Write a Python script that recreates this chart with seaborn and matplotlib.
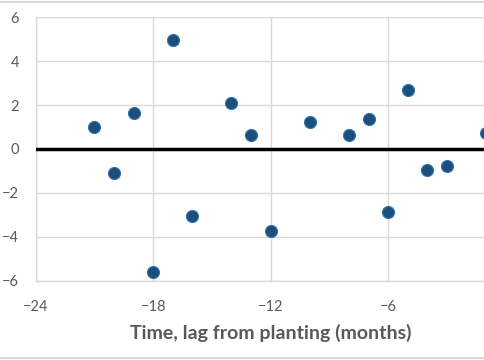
import matplotlib
matplotlib.use("Agg")
import matplotlib.pyplot as plt
import seaborn as sns
import pandas as pd
from matplotlib.lines import Line2D

lag_months = [-21, -20, -19, -18, -17, -16, -14, -13, -12, -10, -8, -7, -6, -5, -4, -3, -1]
values = [1.01, -1.09, 1.66, -5.61, 4.97, -3.03, 2.08, 0.65, -3.75, 1.25, 0.65, 1.36, -2.88, 2.70, -0.94, -0.79, 0.75]
x_ticks = [-24, -18, -12, -6]
y_ticks = [-6, -4, -2, 0, 2, 4, 6]
x_title = "Time, lag from planting (months)"

df = pd.DataFrame({"lag": lag_months, "value": values})

sns.set_theme(style="white")
plt.rcParams['font.family'] = ['Lato', 'DejaVu Sans']

fig = plt.figure(figsize=(4.85, 3.6), dpi=100)
ax = fig.add_axes([35.7 / 485, 79.3 / 360, (505.6 - 35.7) / 485, (280.7 - 17.3) / 360])

sns.scatterplot(data=df, x="lag", y="value", ax=ax, s=75, color="#1f4e79",
                edgecolor="#2e75b6", linewidth=0.8, zorder=5, clip_on=False)

ax.set_xlim(-24, 0)
ax.set_ylim(-6, 6)
ax.set_xticks(x_ticks)
ax.set_yticks(y_ticks)
ax.grid(True, color="#d9d9d9", linewidth=1.0)
ax.axhline(0, color="black", linewidth=2.5, zorder=3)
for side in ["top", "right"]:
    ax.spines[side].set_visible(False)
for side in ["left", "bottom"]:
    ax.spines[side].set_color("#d9d9d9")
    ax.spines[side].set_linewidth(1.0)
ax.tick_params(axis="both", length=0, labelsize=10.5, labelcolor="#595959")
ax.tick_params(axis="x", pad=14)
ax.tick_params(axis="y", pad=12)
ax.set_xlabel(x_title, fontsize=14, fontweight="bold", color="#595959", labelpad=7)
ax.set_ylabel("")

fig.add_artist(Line2D([0, 1], [1 - 1.5 / 360, 1 - 1.5 / 360], transform=fig.transFigure,
                      color="#d9d9d9", linewidth=1.5))
fig.add_artist(Line2D([0, 1], [2 / 360, 2 / 360], transform=fig.transFigure,
                      color="#d9d9d9", linewidth=1.5))

fig.savefig("out.png", dpi=100)
